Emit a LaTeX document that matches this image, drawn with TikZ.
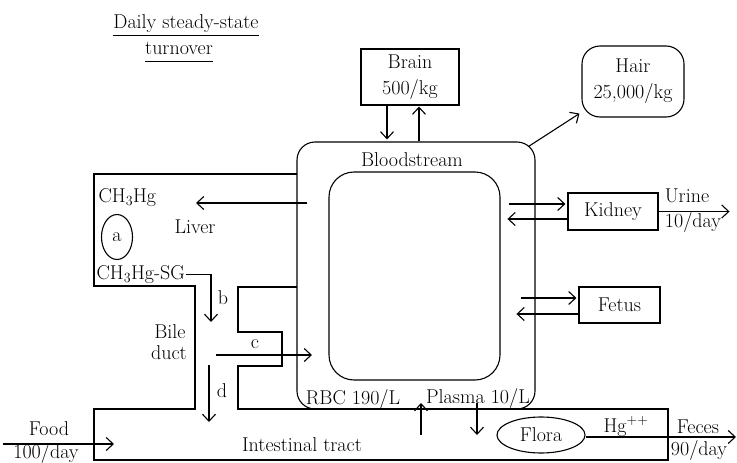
\documentclass[tikz,border=0pt]{standalone}
\usepackage{amsmath}
\usepackage{tikz}
\usetikzlibrary{arrows.meta,shapes.geometric}

\tikzset{
organ/.style={draw,rectangle,inner sep=0pt,align=center},
pool/.style={draw,rectangle,inner sep=0pt,align=center,rounded corners=#1},
lbl/.style={inner sep=0pt,anchor=base}
}

\begin{document}
\begin{tikzpicture}[x=1pt,y=-1pt,line width=1.1pt,>={Straight Barb[length=7pt,width=13pt]},
	font=\fontsize{20}{26}\selectfont]
\useasboundingbox (0,0) rectangle (737,463);
% title
\node[lbl] (title1) at (186,28) {\underline{Daily steady-state}};
\node[lbl] (title2) at (179,54) {\underline{turnover\vphantom{y}}};
% compartments
\node[pool=18pt,minimum width=238pt,minimum height=267pt] (blood) at (416,275.5) {};
\node[pool=25pt,minimum width=171pt,minimum height=208pt] (inner) at (414.5,276) {};
\node[organ,minimum width=98pt,minimum height=56pt] (brain) at (410,77) {Brain\\500/kg};
\node[pool=18pt,minimum width=102pt,minimum height=71pt] (hair) at (633,81.5) {Hair\\25,000/kg};
\node[organ,minimum width=90pt,minimum height=37pt] (kidney) at (613,211.5) {Kidney};
\node[organ,minimum width=81pt,minimum height=36pt] (fetus) at (619.5,305) {Fetus};
\node[draw,ellipse,inner sep=0pt,minimum width=88pt,minimum height=36pt] (flora) at (541,435) {Flora};
\node[draw,ellipse,inner sep=0pt,minimum width=31pt,minimum height=45pt] (enz) at (117,237) {a};
\node[lbl] (bloodlbl) at (412,166) {Bloodstream};
\node[lbl] (rbc) at (353,404) {RBC 190/L};
\node[lbl] (plasma) at (478,403) {Plasma 10/L};
% liver, bile duct and gut
\draw (297,174) -- (94,174) -- (94,286) -- (195,286) -- (195,409) -- (94,409) -- (94,460)
	-- (668,460) -- (668,409) -- (238,409) -- (238,366) -- (282,366) -- (282,332)
	-- (238,332) -- (238,287) -- (297,287);
\node[lbl,anchor=base west] (mehg) at (98,202) {CH\textsubscript{3}Hg};
\node[lbl] (liver) at (195,233) {Liver};
\node[lbl,anchor=base west] (mehgsg) at (96,279) {CH\textsubscript{3}Hg-SG};
\node[lbl] (blbl) at (223,304) {b};
\node[lbl] (bile) at (170,338) {Bile};
\node[lbl] (duct) at (169,359) {duct};
\node[lbl] (clbl) at (255,348) {c};
\node[lbl] (dlbl) at (222,397) {d};
\node[lbl] (food) at (49,435) {Food};
\node[lbl] (foodrate) at (46,458) {100/day};
\node[lbl] (gut) at (302,451) {Intestinal tract};
\node[lbl,anchor=base west] (hg) at (603,432) {Hg\textsuperscript{++}};
\node[lbl] (feces) at (698,433) {Feces};
\node[lbl] (fecesrate) at (699,455) {90/day};
\node[lbl] (urine) at (687,202) {Urine};
\node[lbl] (urinerate) at (693,227) {10/day};
% free ends
\coordinate (liverin) at (196,203);
\coordinate (bto) at (211,322);
\coordinate (cstart) at (216,355);
\coordinate (dstart) at (209,365);
\coordinate (foodin) at (3,444);
\coordinate (gutup) at (421,435);
\coordinate (gutdown) at (477,403);
\coordinate (out) at (736,437);
% flows
\draw[->,shorten >=2pt] ([xshift=-23pt]brain.south) -- ([xshift=-23pt]brain.south |- blood.north);
\draw[->,shorten >=1pt] ([xshift=9pt]brain.south |- blood.north) -- ([xshift=9pt]brain.south);
\draw[->] ([shift={(-7pt,-5pt)}]blood.north east) -- ([shift={(-2pt,4pt)}]hair.south west);
\draw[->] ([xshift=11pt]blood.west |- liverin) -- (liverin);
\draw[<-] ([shift={(-2pt,7.5pt)}]kidney.west) -- ++(-56,0);
\draw[->] ([yshift=-7.5pt]kidney.west) -- ++(-60,0);
\draw[->] (kidney.east) -- ++(71,0);
\draw[<-] ([shift={(-2pt,7pt)}]fetus.west) -- ++(-55,0);
\draw[->] ([yshift=-9pt]fetus.west) -- ++(-62,0);
\draw[->] (mehgsg.east) -| (bto);
\draw[->] (cstart) -- ++(96,0);
\draw[->] (dstart) -- ++(0,57);
\draw[->] (foodin) -- ++(111,0);
\draw[->] (gutup) -- ++(0,-32);
\draw[->] (gutdown) -- ++(0,32);
\draw[->] ([yshift=-2pt]flora.east) -- (out);
\end{tikzpicture}
\end{document}
